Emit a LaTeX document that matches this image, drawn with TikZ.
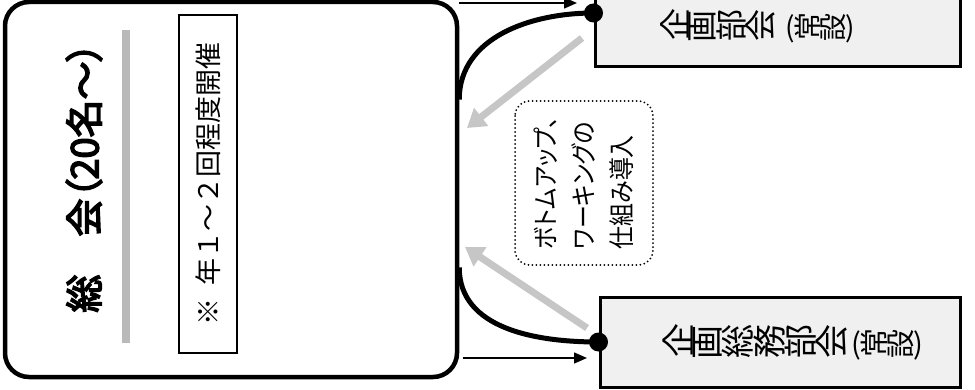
\documentclass[tikz,border=0pt]{standalone}
\usepackage{fontspec}
\usepackage{graphicx}
\newfontfamily\jp{Noto Sans CJK JP}
\newfontfamily\jpb{Noto Sans CJK JP}[FakeBold=4,RawFeature=+palt]
\newfontfamily\jpp{Noto Sans CJK JP}[RawFeature=+palt,FakeStretch=0.88]
\usetikzlibrary{arrows.meta,positioning,calc}

% glyphs one after another, each turned a quarter left
\newcommand{\vt}[1]{\foreach \kana in {#1}{\rotatebox[origin=c]{90}{\kana}}}

\begin{document}
\begin{tikzpicture}[
  x=1pt,y=1pt,
  bigbox/.style={draw,line width=4.5pt,rounded corners=24pt},
  unitbox/.style={draw,line width=3pt,fill=gray!12},
  note/.style={draw,line width=1.2pt,rotate=90,font=\jp\fontsize{27}{30}\selectfont},
  link/.style={line width=5pt},
  flow/.style={line width=1.5pt,-{Triangle[length=13pt,width=11pt]}},
  upflow/.style={line width=7pt,draw=gray!45,-{Triangle[length=18pt,width=22pt]}},
  dot/.style={circle,fill,inner sep=0pt,minimum size=19pt}
]
\useasboundingbox (0,0) rectangle (975,389);

% left: general assembly
\node[bigbox,minimum width=452pt,minimum height=375pt] (sokai) at (231,199.5) {};
\node[rotate=90,font=\jpb\fontsize{38}{40}\selectfont] (title) at (84,211.5) {総\hspace{1em}会（20名～）};
\node[fill=gray!55,minimum width=8pt,minimum height=313pt,inner sep=0pt] (rule) at (126,202.5) {};
\node[note,minimum width=338pt,minimum height=58pt] (kaisai) at (208,205) {※\hspace{0.5em}年１～２回程度開催\hspace{14pt}};

% right: standing committees
\node[unitbox,minimum width=365pt,minimum height=82pt] (kikaku) at (777.5,363) {};
\node[font=\jp\fontsize{32}{34}\selectfont] (kikakulbl) at ([xshift=-20pt]kikaku.center) {\vt{企,画,部,会}\hspace{10pt}{\fontsize{28}{28}\selectfont(\vt{常,設})}};
\node[unitbox,minimum width=360pt,minimum height=90pt] (somu) at (780,47) {};
\node[font=\jp\fontsize{34}{36}\selectfont] (somulbl) at ([xshift=13pt]somu.center) {\vt{企,画,総,務,部,会}\hspace{4pt}{\fontsize{29}{29}\selectfont(\vt{常,設})}};

\node[dot] (dotA) at ([yshift=13pt]kikaku.west) {};
\node[dot] (dotB) at (somu.west) {};

% middle: bottom-up note
\node[draw,line width=2pt,dash pattern=on 0pt off 4pt,line cap=round,rounded corners=15pt,rotate=90,
  minimum width=164pt,minimum height=138pt,align=left,font=\jpp\fontsize{26}{38}\selectfont] (bottomup) at (584,206)
  {ボトムアップ、\\ワーキングの\\仕組み導入};

% connectors
\coordinate (jointA) at ([yshift=90pt]sokai.east);
\coordinate (jointB) at ([yshift=-78pt]sokai.east);
\draw[link] (dotA.center) to[out=180,in=90] (jointA);
\draw[link] (dotB.center) to[out=180,in=-90] (jointB);

\coordinate (tipA) at (577,386);
\coordinate (tipB) at (587,31);
\draw[flow] (sokai.east |- tipA) -- (tipA);
\draw[flow] ([xshift=4pt]sokai.east |- tipB) -- (tipB);

\coordinate (upA0) at (582,351);
\coordinate (upA1) at (467,261);
\coordinate (upB0) at (587,61);
\coordinate (upB1) at (465,142);
\draw[upflow] (upA0) -- (upA1);
\draw[upflow] (upB0) -- (upB1);
\end{tikzpicture}
\end{document}
